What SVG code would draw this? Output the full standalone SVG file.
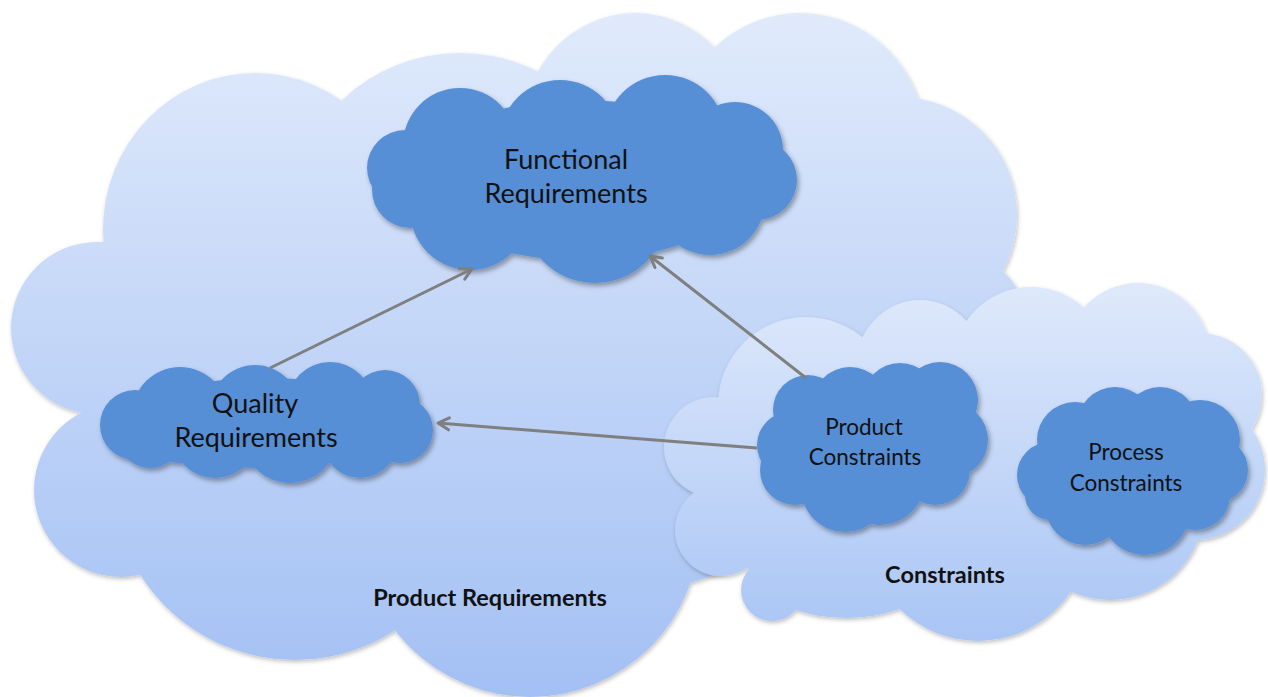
<svg xmlns="http://www.w3.org/2000/svg" width="1268" height="697" viewBox="0 0 1268 697">
<defs>
<linearGradient id="gBig" gradientUnits="userSpaceOnUse" x1="0" y1="13" x2="0" y2="697">
<stop offset="0" stop-color="#e0eafb"/><stop offset="1" stop-color="#a3c0f4"/>
</linearGradient>
<linearGradient id="gCon" gradientUnits="userSpaceOnUse" x1="0" y1="283" x2="0" y2="641">
<stop offset="0" stop-color="#dfe9fb"/><stop offset="1" stop-color="#a9c5f5"/>
</linearGradient>
<filter id="shLight" x="-5%" y="-5%" width="110%" height="115%">
<feDropShadow dx="1" dy="2" stdDeviation="2" flood-color="#000" flood-opacity="0.25"/>
</filter>
<filter id="shNode" x="-10%" y="-10%" width="120%" height="130%">
<feDropShadow dx="2" dy="3" stdDeviation="2.5" flood-color="#000" flood-opacity="0.35"/>
</filter>
<marker id="arr" markerUnits="userSpaceOnUse" markerWidth="18" markerHeight="18" viewBox="0 0 18 18" refX="15" refY="9" orient="auto">
<path d="M4,3 L15,9 L4,15" fill="none" stroke="#7f7f7f" stroke-width="3" stroke-linecap="round" stroke-linejoin="round"/>
</marker>
</defs>
<style>
.big circle, .big ellipse { fill: url(#gBig); }
.con circle, .con ellipse { fill: url(#gCon); }
.node circle, .node ellipse { fill: #578fd5; }
.lbl { font-family: Lato, "Liberation Sans", sans-serif; fill: #111111; text-anchor: middle; }
.n1 { font-size: 27px; }
.n2 { font-size: 22.5px; }
.ttl { font-size: 23.5px; font-weight: bold; }
.conn line { stroke: #7f7f7f; stroke-width: 3; fill: none; marker-end: url(#arr); }
</style>

<g id="product-requirements">
<g class="big" filter="url(#shLight)">
<circle cx="97" cy="328" r="86"/>
<ellipse cx="255" cy="230" rx="152" ry="157"/>
<ellipse cx="460" cy="210" rx="165" ry="157"/>
<ellipse cx="635" cy="130" rx="112" ry="117"/>
<ellipse cx="800" cy="140" rx="125" ry="127"/>
<circle cx="899" cy="215" r="118"/>
<circle cx="960" cy="320" r="65"/>
<circle cx="121" cy="490" r="87"/>
<circle cx="295" cy="477" r="183"/>
<circle cx="530" cy="527" r="170"/>
<ellipse cx="500" cy="360" rx="420" ry="250"/>
</g>
<text class="lbl ttl" x="490" y="606">Product Requirements</text>
</g>

<g id="constraints">
<g class="con" filter="url(#shLight)">
<circle cx="806" cy="405" r="88"/>
<circle cx="714" cy="447" r="50"/>
<circle cx="721" cy="530" r="46"/>
<circle cx="772" cy="590" r="31"/>
<ellipse cx="846" cy="558" rx="100" ry="60"/>
<circle cx="978" cy="529" r="112"/>
<circle cx="1110" cy="505" r="95"/>
<circle cx="1195" cy="470" r="70"/>
<circle cx="1200" cy="395" r="62"/>
<circle cx="1138" cy="355" r="72"/>
<circle cx="1031" cy="365" r="78"/>
<ellipse cx="920" cy="370" rx="65" ry="70"/>
<ellipse cx="960" cy="460" rx="260" ry="130"/>
</g>
<text class="lbl ttl" x="945" y="583">Constraints</text>
</g>

<g id="functional-requirements">
<g class="node" filter="url(#shNode)">
<circle cx="405" cy="168" r="38"/>
<circle cx="460" cy="145" r="57"/>
<circle cx="560" cy="140" r="60"/>
<circle cx="665" cy="135" r="60"/>
<circle cx="735" cy="150" r="48"/>
<circle cx="757" cy="180" r="40"/>
<circle cx="710" cy="200" r="55"/>
<circle cx="595" cy="210" r="73"/>
<circle cx="470" cy="210" r="60"/>
<circle cx="410" cy="190" r="38"/>
<ellipse cx="580" cy="180" rx="170" ry="80"/>
</g>
<text class="lbl n1" x="566" y="169">Functional</text>
<text class="lbl n1" x="566" y="203">Requirements</text>
</g>

<g id="quality-requirements">
<g class="node" filter="url(#shNode)">
<circle cx="135" cy="425" r="35"/>
<circle cx="180" cy="415" r="48"/>
<circle cx="255" cy="410" r="45"/>
<circle cx="330" cy="405" r="43"/>
<circle cx="385" cy="405" r="35"/>
<circle cx="400" cy="430" r="33"/>
<circle cx="360" cy="440" r="38"/>
<circle cx="290" cy="435" r="48"/>
<circle cx="215" cy="435" r="43"/>
<circle cx="150" cy="435" r="33"/>
<ellipse cx="265" cy="423" rx="140" ry="45"/>
</g>
<text class="lbl n1" x="255" y="413">Quality</text>
<text class="lbl n1" x="256" y="447">Requirements</text>
</g>

<g id="product-constraints">
<g class="node" filter="url(#shNode)">
<circle cx="790" cy="445" r="33"/>
<circle cx="808" cy="410" r="35"/>
<circle cx="850" cy="405" r="38"/>
<circle cx="900" cy="400" r="37"/>
<circle cx="940" cy="400" r="38"/>
<circle cx="950" cy="440" r="38"/>
<circle cx="935" cy="470" r="35"/>
<circle cx="880" cy="480" r="45"/>
<circle cx="845" cy="488" r="44"/>
<circle cx="795" cy="470" r="35"/>
<ellipse cx="872" cy="445" rx="100" ry="60"/>
</g>
<text class="lbl n2" x="864" y="435">Product</text>
<text class="lbl n2" x="865" y="465">Constraints</text>
</g>

<g id="process-constraints">
<g class="node" filter="url(#shNode)">
<circle cx="1050" cy="475" r="33"/>
<circle cx="1075" cy="440" r="38"/>
<circle cx="1115" cy="425" r="38"/>
<circle cx="1160" cy="425" r="38"/>
<circle cx="1200" cy="440" r="40"/>
<circle cx="1215" cy="470" r="33"/>
<circle cx="1195" cy="495" r="35"/>
<circle cx="1145" cy="510" r="45"/>
<circle cx="1085" cy="505" r="40"/>
<circle cx="1050" cy="495" r="25"/>
<ellipse cx="1133" cy="470" rx="100" ry="55"/>
</g>
<text class="lbl n2" x="1126" y="460">Process</text>
<text class="lbl n2" x="1126" y="491">Constraints</text>
</g>

<g id="connectors" class="conn">
<line x1="270" y1="368" x2="472" y2="269"/>
<line x1="806" y1="378" x2="650" y2="256"/>
<line x1="757" y1="448" x2="438" y2="423"/>
</g>
</svg>
